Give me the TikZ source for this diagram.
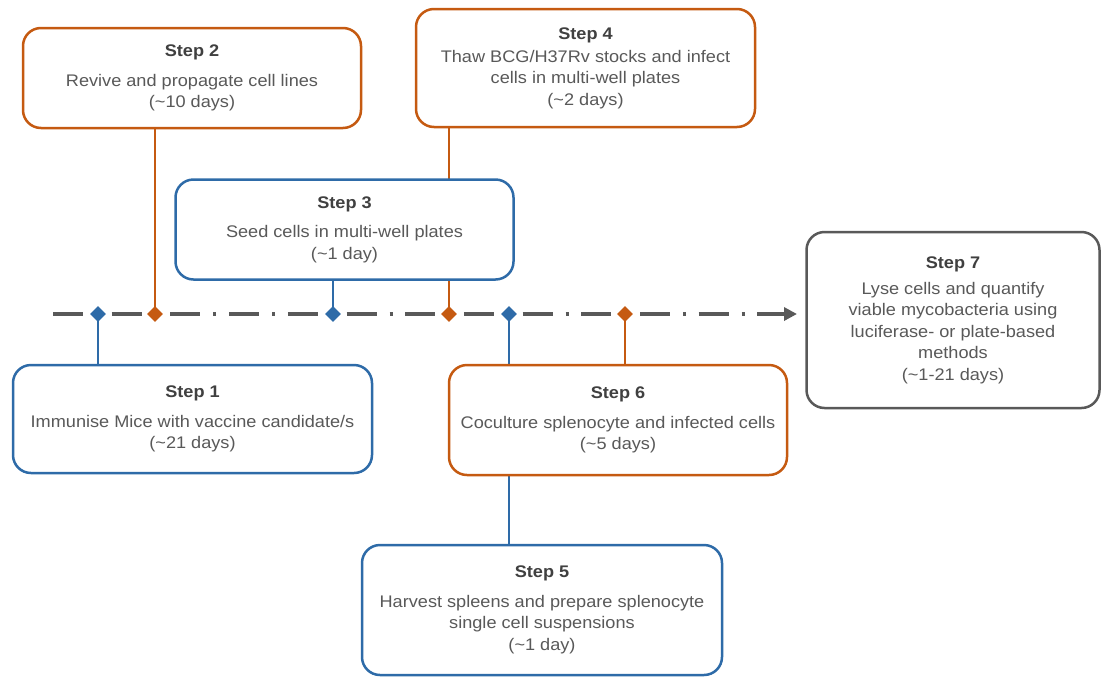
\documentclass[tikz,border=0pt]{standalone}
\usepackage{fontspec}
\setmainfont{Liberation Sans}[FakeStretch=1.08]
\usetikzlibrary{shapes.geometric,arrows.meta,backgrounds}
\definecolor{myorange}{HTML}{C55A11}
\definecolor{myblue}{HTML}{2E6BA8}
\definecolor{linegray}{HTML}{595959}
\definecolor{txtgray}{HTML}{595959}
\definecolor{ttlgray}{HTML}{404040}
\newcommand{\ttl}[1]{{\bfseries\color{ttlgray}#1}}
\begin{document}
\begin{tikzpicture}[x=1pt,y=-1pt,
  stepbox/.style={draw, line width=2.5pt, rounded corners=18pt, fill=white,
    inner sep=0pt, align=center, text=txtgray,
    font=\fontsize{16.8}{21.5}\selectfont},
  orangebox/.style={stepbox, draw=myorange},
  bluebox/.style={stepbox, draw=myblue},
  graybox/.style={stepbox, draw=linegray},
  mark diamond/.style={diamond, aspect=1, minimum width=16pt, minimum height=16pt, inner sep=0pt},
  bluemark/.style={mark diamond, fill=myblue},
  orangemark/.style={mark diamond, fill=myorange},
  bluelink/.style={draw=myblue, line width=2.5pt},
  orangelink/.style={draw=myorange, line width=2.5pt},
  timeline/.style={draw=linegray, line width=4pt,
    dash pattern=on 30pt off 13pt on 3pt off 12.7pt,
    -{Triangle[length=13pt,width=13pt]}}
]
\useasboundingbox (0,0) rectangle (1102,678);

% boxes
\node[orangebox, minimum width=338pt, minimum height=100pt] (s2) at (192,78)
  {\ttl{Step 2}\\[8pt] Revive and propagate cell lines\\ (\textasciitilde10 days)};
\node[orangebox, minimum width=339pt, minimum height=118pt] (s4) at (585.5,68)
  {\ttl{Step 4}\\[1.5pt] Thaw BCG/H37Rv stocks and infect\\ cells in multi-well plates\\ (\textasciitilde2 days)};
\node[bluebox, minimum width=338pt, minimum height=100pt] (s3) at (344.5,229.5)
  {\ttl{Step 3}\\[8pt] Seed cells in multi-well plates\\ (\textasciitilde1 day)};
\node[graybox, minimum width=293pt, minimum height=176pt] (s7) at (953,320)
  {\ttl{Step 7}\\[4.5pt] Lyse cells and quantify\\ viable mycobacteria using\\ luciferase- or plate-based\\ methods\\ (\textasciitilde1-21 days)};
\node[bluebox, minimum width=359pt, minimum height=108pt] (s1) at (192.5,419)
  {\ttl{Step 1}\\[8pt] Immunise Mice with vaccine candidate/s\\ (\textasciitilde21 days)};
\node[orangebox, minimum width=338pt, minimum height=110pt] (s6) at (618,420)
  {\ttl{Step 6}\\[8pt] Coculture splenocyte and infected cells\\ (\textasciitilde5 days)};
\node[bluebox, minimum width=360pt, minimum height=130pt] (s5) at (542,610)
  {\ttl{Step 5}\\[8pt] Harvest spleens and prepare splenocyte\\ single cell suspensions\\ (\textasciitilde1 day)};

% timeline markers
\coordinate (tstart) at (53,314);
\coordinate (tend) at (797,314);
\node[bluemark] (d1) at (98,314) {};
\node[orangemark] (d2) at (155,314) {};
\node[bluemark] (d3) at (333,314) {};
\node[orangemark] (d4) at (449,314) {};
\node[bluemark] (d5) at (509,314) {};
\node[orangemark] (d6) at (625,314) {};

\begin{scope}[on background layer]
  \draw[timeline] (tstart) -- (tend);
  \draw[bluelink] (d1.center) -- (d1 |- s1.north);
  \draw[orangelink] (d2.center) -- (d2 |- s2.south);
  \draw[bluelink] (d3.center) -- (d3 |- s3.south);
  \draw[orangelink] (d4.center) -- (d4 |- s4.south);
  \draw[bluelink] (d5.center) -- (d5 |- s5.north);
  \draw[orangelink] (d6.center) -- (d6 |- s6.north);
\end{scope}
\end{tikzpicture}
\end{document}
